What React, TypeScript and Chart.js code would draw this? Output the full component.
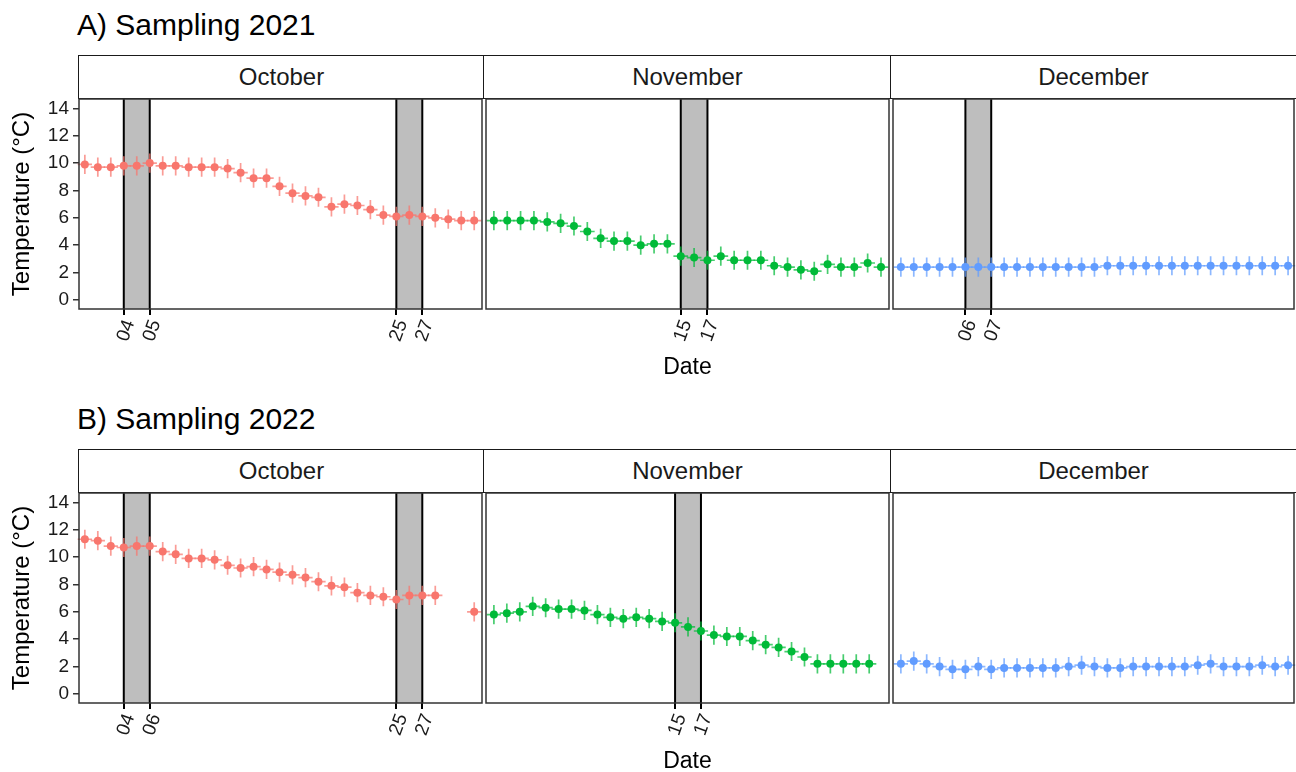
import React, { useEffect, useRef } from "react";
import { Chart, registerables } from "chart.js";

Chart.register(...registerables);

// ---------------- data ----------------
const MONTHS = ["October", "November", "December"];
const MONTH_COLORS = ["#F8766D", "#00BA38", "#619CFF"];

const A_OCT_TEMP = [9.9, 9.7, 9.7, 9.8, 9.8, 10.0, 9.8, 9.8, 9.7, 9.7, 9.7, 9.6, 9.3, 8.9, 8.9, 8.3, 7.8, 7.6, 7.5, 6.8, 7.0, 6.9, 6.6, 6.2, 6.1, 6.2, 6.1, 6.0, 5.9, 5.8, 5.8];
const A_NOV_TEMP = [5.8, 5.8, 5.8, 5.8, 5.7, 5.6, 5.4, 5.0, 4.5, 4.3, 4.3, 4.0, 4.1, 4.1, 3.2, 3.1, 2.9, 3.2, 2.9, 2.9, 2.9, 2.5, 2.4, 2.2, 2.1, 2.6, 2.4, 2.4, 2.7, 2.4];
const A_DEC_TEMP = [2.4, 2.4, 2.4, 2.4, 2.4, 2.4, 2.4, 2.4, 2.4, 2.4, 2.4, 2.4, 2.4, 2.4, 2.4, 2.4, 2.5, 2.5, 2.5, 2.5, 2.5, 2.5, 2.5, 2.5, 2.5, 2.5, 2.5, 2.5, 2.5, 2.5, 2.5];

const B_OCT_TEMP = [11.3, 11.2, 10.8, 10.7, 10.8, 10.8, 10.4, 10.2, 9.9, 9.9, 9.8, 9.4, 9.2, 9.3, 9.1, 8.9, 8.7, 8.5, 8.2, 7.9, 7.8, 7.4, 7.2, 7.1, 6.9, 7.2, 7.2, 7.2, null, null, 6.0];
const B_NOV_TEMP = [5.8, 5.9, 6.0, 6.4, 6.3, 6.2, 6.2, 6.1, 5.8, 5.6, 5.5, 5.6, 5.5, 5.3, 5.2, 4.9, 4.6, 4.3, 4.2, 4.2, 3.9, 3.6, 3.4, 3.1, 2.7, 2.2, 2.2, 2.2, 2.2, 2.2];
const B_DEC_TEMP = [2.2, 2.4, 2.2, 2.0, 1.8, 1.8, 2.0, 1.8, 1.9, 1.9, 1.9, 1.9, 1.9, 2.0, 2.1, 2.0, 1.9, 1.9, 2.0, 2.0, 2.0, 2.0, 2.0, 2.1, 2.2, 2.0, 2.0, 2.0, 2.1, 2.0, 2.1];

// sampling windows (day positions) and their tick labels
const A_OCT_TICKS = [4, 6, 25, 27];
const A_OCT_LABELS = ["04", "05", "25", "27"];
const A_NOV_TICKS = [15, 17];
const A_NOV_LABELS = ["15", "17"];
const A_DEC_TICKS = [6, 8];
const A_DEC_LABELS = ["06", "07"];
const B_OCT_TICKS = [4, 6, 25, 27];
const B_OCT_LABELS = ["04", "06", "25", "27"];
const B_NOV_TICKS = [15, 17];
const B_NOV_LABELS = ["15", "17"];
const B_DEC_TICKS: number[] = [];
const B_DEC_LABELS: string[] = [];

const Y_TICKS = [0, 2, 4, 6, 8, 10, 12, 14];
const Y_MIN = -0.66;
const Y_MAX = 14.68;
const Y_ERR = 0.7; // vertical error bar half-length (°C)
const X_ERR = 0.55; // horizontal error bar half-length (days)

// ---------------- layout ----------------
const FONT = '"Liberation Sans", Arial, Helvetica, sans-serif';
const FACET_X = [
  [79, 484],
  [484, 891],
  [891, 1296],
];
const PLOT_H = 210;
const STRIP_H = 44;
const PAD_T = 20;
const X_AXIS_H = 72;

const PANELS = [
  {
    title: "A) Sampling 2021",
    titleTop: 10,
    stripTop: 55,
    plotTop: 99,
    series: [A_OCT_TEMP, A_NOV_TEMP, A_DEC_TEMP],
    ticks: [A_OCT_TICKS, A_NOV_TICKS, A_DEC_TICKS],
    labels: [A_OCT_LABELS, A_NOV_LABELS, A_DEC_LABELS],
    xRange: [
      [0.55, 31.6],
      [0.41, 30.6],
      [0.39, 31.46],
    ],
  },
  {
    title: "B) Sampling 2022",
    titleTop: 404,
    stripTop: 449,
    plotTop: 493,
    series: [B_OCT_TEMP, B_NOV_TEMP, B_DEC_TEMP],
    ticks: [B_OCT_TICKS, B_NOV_TICKS, B_DEC_TICKS],
    labels: [B_OCT_LABELS, B_NOV_LABELS, B_DEC_LABELS],
    xRange: [
      [0.55, 31.6],
      [0.39, 31.53],
      [0.39, 31.46],
    ],
  },
];

function makeFacetPlugin(windows: number[][], barColor: string) {
  return {
    id: "facetDecor",
    beforeDatasetsDraw(chart: any) {
      const { ctx, chartArea: a, scales } = chart;
      const x = scales.x;
      const y = scales.y;
      ctx.save();
      for (const [s, e] of windows) {
        const x0 = x.getPixelForValue(s);
        const x1 = x.getPixelForValue(e);
        ctx.fillStyle = "#BEBEBE";
        ctx.fillRect(x0, a.top, x1 - x0, a.bottom - a.top);
        ctx.strokeStyle = "#000000";
        ctx.lineWidth = 2;
        ctx.beginPath();
        ctx.moveTo(x0, a.top);
        ctx.lineTo(x0, a.bottom);
        ctx.moveTo(x1, a.top);
        ctx.lineTo(x1, a.bottom);
        ctx.stroke();
      }
      ctx.strokeStyle = barColor;
      ctx.lineWidth = 1.7;
      const pts = chart.data.datasets[0].data;
      for (const p of pts) {
        if (p.y == null) continue;
        const px = x.getPixelForValue(p.x);
        const py = y.getPixelForValue(p.y);
        ctx.beginPath();
        ctx.moveTo(px, y.getPixelForValue(p.y - Y_ERR));
        ctx.lineTo(px, y.getPixelForValue(p.y + Y_ERR));
        ctx.moveTo(x.getPixelForValue(p.x - X_ERR), py);
        ctx.lineTo(x.getPixelForValue(p.x + X_ERR), py);
        ctx.stroke();
      }
      ctx.restore();
    },
    afterDraw(chart: any) {
      const { ctx, chartArea: a } = chart;
      ctx.save();
      ctx.strokeStyle = "#333333";
      ctx.lineWidth = 1.5;
      ctx.strokeRect(a.left, a.top, a.right - a.left, a.bottom - a.top);
      ctx.restore();
    },
  };
}

function facetGeometry(panelIdx: number, facetIdx: number) {
  const p = PANELS[panelIdx];
  const [fl, fr] = FACET_X[facetIdx];
  const first = facetIdx === 0;
  const left = first ? 0 : fl - 2;
  const width = fr + 2 - left;
  const top = p.plotTop - PAD_T;
  const height = PAD_T + PLOT_H + X_AXIS_H + 4;
  return { left, top, width, height, first, fl, fr };
}

export default function App() {
  const refs = useRef<(HTMLCanvasElement | null)[]>([]);

  useEffect(() => {
    const charts: Chart[] = [];
    PANELS.forEach((panel, pi) => {
      MONTHS.forEach((month, fi) => {
        const canvas = refs.current[pi * 3 + fi];
        if (!canvas) return;
        const g = facetGeometry(pi, fi);
        const values = panel.series[fi];
        const tickVals = panel.ticks[fi];
        const tickLabels = panel.labels[fi];
        const windows: number[][] = [];
        for (let i = 0; i + 1 < tickVals.length; i += 2) windows.push([tickVals[i], tickVals[i + 1]]);
        const color = MONTH_COLORS[fi];
        const data = values.map((v, i) => ({ x: i + 1, y: v }));
        const showX = tickVals.length > 0;
        const isMid = fi === 1;
        const padding = {
          left: g.first ? 0 : 2,
          right: 2,
          top: PAD_T,
          bottom: 4,
        };
        const chart = new Chart(canvas, {
          type: "scatter",
          data: {
            datasets: [
              {
                label: month,
                data,
                backgroundColor: color,
                borderWidth: 0,
                pointRadius: 4,
                pointHoverRadius: 4,
                showLine: false,
              } as any,
            ],
          },
          options: {
            animation: false,
            responsive: false,
            events: [],
            layout: { padding },
            plugins: {
              legend: { display: false },
              tooltip: { enabled: false },
              title: { display: false },
            },
            scales: {
              x: {
                type: "linear",
                display: showX || isMid,
                min: panel.xRange[fi][0],
                max: panel.xRange[fi][1],
                afterBuildTicks: (s: any) => {
                  s.ticks = tickVals.map((v) => ({ value: v }));
                },
                afterFit: (s: any) => {
                  s.height = X_AXIS_H;
                },
                ticks: {
                  autoSkip: false,
                  minRotation: 70,
                  maxRotation: 70,
                  padding: 2,
                  labelOffset: 6,
                  color: "#1a1a1a",
                  font: { family: FONT, size: 19 },
                  callback: (_v: any, i: number) => tickLabels[i],
                },
                grid: {
                  display: true,
                  drawOnChartArea: false,
                  drawTicks: true,
                  tickLength: 6,
                  color: "#000000",
                  lineWidth: 2,
                },
                border: { display: false },
                title: {
                  display: isMid,
                  text: "Date",
                  color: "#000000",
                  font: { family: FONT, size: 23 },
                  padding: { top: 0, bottom: 0 },
                },
              } as any,
              y: {
                type: "linear",
                display: g.first,
                min: Y_MIN,
                max: Y_MAX,
                afterBuildTicks: (s: any) => {
                  s.ticks = Y_TICKS.map((v) => ({ value: v }));
                },
                afterFit: (s: any) => {
                  s.width = g.first ? FACET_X[0][0] : 0;
                },
                ticks: {
                  padding: 4,
                  color: "#1a1a1a",
                  font: { family: FONT, size: 19 },
                },
                grid: {
                  display: true,
                  drawOnChartArea: false,
                  drawTicks: true,
                  tickLength: 6,
                  color: "#333333",
                  lineWidth: 1.5,
                },
                border: { display: false },
                title: {
                  display: true,
                  text: "Temperature (°C)",
                  color: "#000000",
                  font: { family: FONT, size: 24 },
                  padding: { top: 8, bottom: 0 },
                },
              } as any,
            },
          },
          plugins: [makeFacetPlugin(windows, color + "B8")],
        });
        // make sure the plotting area sits exactly on the facet frame
        const wantL = g.fl - g.left;
        const wantR = g.fr - g.left;
        const wantT = PAD_T;
        const wantB = PAD_T + PLOT_H;
        for (let k = 0; k < 3; k++) {
          const ca = chart.chartArea;
          const dl = wantL - ca.left;
          const dr = ca.right - wantR;
          const dt = wantT - ca.top;
          const db = ca.bottom - wantB;
          if (Math.abs(dl) < 0.01 && Math.abs(dr) < 0.01 && Math.abs(dt) < 0.01 && Math.abs(db) < 0.01) break;
          const lp: any = (chart.options as any).layout.padding;
          (chart.options as any).layout.padding = {
            left: lp.left + dl,
            right: lp.right + dr,
            top: lp.top + dt,
            bottom: lp.bottom + db,
          };
          chart.update();
        }
        charts.push(chart);
      });
    });
    return () => charts.forEach((c) => c.destroy());
  }, []);

  return (
    <div
      style={{
        position: "fixed",
        left: 0,
        top: 0,
        width: 1296,
        height: 772,
        overflow: "hidden",
        background: "#ffffff",
        fontFamily: FONT,
      }}
    >
      {PANELS.map((panel, pi) => (
        <React.Fragment key={panel.title}>
          <div
            style={{
              position: "absolute",
              left: 77,
              top: panel.titleTop,
              fontSize: 30,
              lineHeight: "30px",
              color: "#000",
              whiteSpace: "nowrap",
            }}
          >
            {panel.title}
          </div>
          {MONTHS.map((m, fi) => {
            const [fl, fr] = FACET_X[fi];
            return (
              <div
                key={m}
                style={{
                  position: "absolute",
                  left: fl - 0.75,
                  top: panel.stripTop,
                  width: fr - fl + 1.5,
                  height: STRIP_H,
                  boxSizing: "border-box",
                  border: "1.5px solid #1a1a1a",
                  background: "#ffffff",
                  display: "flex",
                  alignItems: "center",
                  justifyContent: "center",
                  fontSize: 24,
                  color: "#1a1a1a",
                }}
              >
                {m}
              </div>
            );
          })}
          {MONTHS.map((m, fi) => {
            const g = facetGeometry(pi, fi);
            return (
              <canvas
                key={"c" + m}
                ref={(el) => {
                  refs.current[pi * 3 + fi] = el;
                }}
                width={g.width}
                height={g.height}
                style={{
                  position: "absolute",
                  left: g.left,
                  top: g.top,
                  width: g.width,
                  height: g.height,
                }}
              />
            );
          })}
        </React.Fragment>
      ))}
    </div>
  );
}
